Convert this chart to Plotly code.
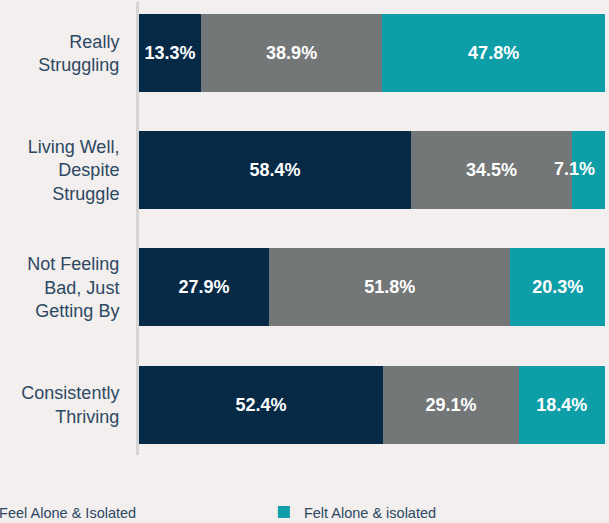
import plotly.graph_objects as go

categories = ["Really<br>Struggling", "Living Well,<br>Despite<br>Struggle",
              "Not Feeling<br>Bad, Just<br>Getting By", "Consistently<br>Thriving"]
never_vals = [13.3, 58.4, 27.9, 52.4]
sometimes_vals = [38.9, 34.5, 51.8, 29.1]
felt_vals = [47.8, 7.1, 20.3, 18.4]

series_names = ["Never Feel Alone & Isolated", "Feel Alone & Isolated", "Felt Alone & isolated"]
colors = ["#062946", "#737778", "#0e9ea8"]
BG = "#f3efee"
TEXT = "#2c4862"
FONT = "Liberation Sans, Arial, Helvetica, sans-serif"
NARROW = 10  # segments below this share get their label right-aligned at the bar end

all_vals = [never_vals, sometimes_vals, felt_vals]
label_font = dict(family=FONT, size=18, color="white", weight="bold")

fig = go.Figure()
for name, vals, col, show, lg in zip(series_names, all_vals, colors,
                                     [False, True, True], ["legend", "legend", "legend2"]):
    fig.add_trace(go.Bar(
        y=categories, x=vals, name=name, orientation="h",
        marker=dict(color=col, line=dict(width=0)),
        text=[f"{v:.1f}%" if v >= NARROW else "" for v in vals],
        textposition="inside", insidetextanchor="middle",
        textangle=0, constraintext="none",
        textfont=label_font,
        showlegend=show, legend=lg, hoverinfo="x+name",
    ))

# labels for narrow segments, anchored at the segment's end
nx, ny, nt = [], [], []
for i, cat in enumerate(categories):
    cum = 0
    for vals in all_vals:
        cum += vals[i]
        if vals[i] < NARROW:
            nx.append(cum)
            ny.append(cat)
            nt.append(f"{vals[i]:.1f}%\u00a0\u00a0")
fig.add_trace(go.Scatter(
    x=nx, y=ny, text=nt, mode="text", textposition="middle left",
    textfont=label_font, showlegend=False, hoverinfo="skip", cliponaxis=False,
))

legend_common = dict(
    orientation="h", yanchor="top", y=-0.0906,
    font=dict(family=FONT, size=14.5, color=TEXT),
    bgcolor="rgba(0,0,0,0)", itemclick=False, itemdoubleclick=False,
)

fig.update_layout(
    barmode="stack",
    bargap=0.3345,
    width=609, height=523,
    margin=dict(l=139, r=4, t=2, b=68, autoexpand=False),
    paper_bgcolor=BG, plot_bgcolor=BG,
    font=dict(family=FONT, color=TEXT),
    xaxis=dict(range=[0, 100], visible=False),
    yaxis=dict(
        type="category", categoryorder="array", categoryarray=categories,
        range=[3.43, -0.435],
        showline=True, linecolor="#d5d5d5", linewidth=3,
        showgrid=False, zeroline=False, ticks="",
        ticklabelstandoff=13,
        tickfont=dict(family=FONT, size=18, color=TEXT),
    ),
    legend=dict(x=-0.386, xanchor="left", **legend_common),
    legend2=dict(x=0.268, xanchor="left", **legend_common),
)

fig.write_html("out.html", config={"displayModeBar": False},
               post_script="document.body.style.margin='0';document.body.style.overflow='hidden';")
